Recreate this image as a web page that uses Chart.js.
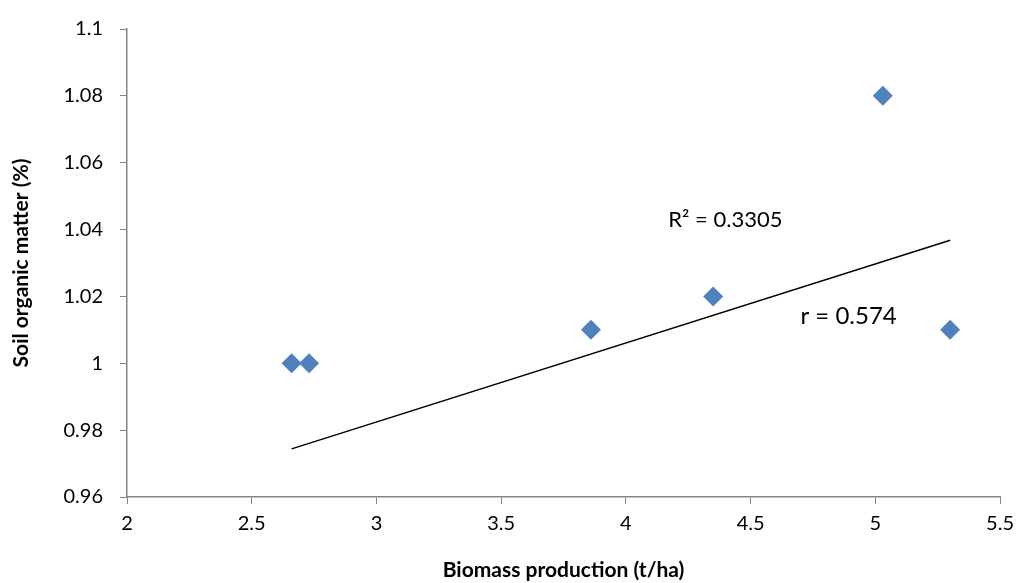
<!DOCTYPE html>
<html>
<head>
<meta charset="utf-8">
<script src="https://cdn.jsdelivr.net/npm/chart.js@4/dist/chart.umd.min.js"></script>
<style>
  html, body { margin: 0; padding: 0; background: #fff; }
  #wrap { width: 1022px; height: 583px; }
</style>
</head>
<body>
<div id="wrap"><canvas id="scatterChart"></canvas></div>
<script>
// Values
const biomass = [2.66, 2.73, 3.86, 4.35, 5.03, 5.30];
const organicMatter = [1.00, 1.00, 1.01, 1.02, 1.08, 1.01];

// Trend line end points
const trendX = [2.66, 5.30];
const trendY = [0.9744, 1.0368];

// Text labels placed in data coordinates
const noteText = ['R\u00b2 = 0.3305', 'r = 0.574'];
const noteX = [4.17, 4.70];
const noteY = [1.0429, 1.0141];
const noteSize = [22, 24];

const fontFamily = 'Lato, "Open Sans", sans-serif';
const axisGray = '#868686';

// Draws the R² and r labels
const notesPlugin = {
  id: 'notes',
  afterDatasetsDraw(chart) {
    const ctx = chart.ctx;
    const xs = chart.scales.x;
    const ys = chart.scales.y;
    ctx.save();
    ctx.fillStyle = '#000';
    ctx.textAlign = 'left';
    ctx.textBaseline = 'middle';
    noteText.forEach((t, i) => {
      ctx.font = noteSize[i] + 'px ' + fontFamily;
      ctx.fillText(t, xs.getPixelForValue(noteX[i]), ys.getPixelForValue(noteY[i]));
    });
    ctx.restore();
  }
};

const ctx = document.getElementById('scatterChart').getContext('2d');
new Chart(ctx, {
  type: 'scatter',
  data: {
    datasets: [
      {
        label: 'Soil organic matter',
        data: biomass.map((x, i) => ({ x: x, y: organicMatter[i] })),
        pointStyle: 'rectRot',
        pointRadius: 10,
        pointHoverRadius: 10,
        backgroundColor: '#4F81BD',
        borderColor: '#4F81BD',
        borderWidth: 0
      },
      {
        label: 'Linear trend',
        type: 'line',
        data: trendX.map((x, i) => ({ x: x, y: trendY[i] })),
        borderColor: '#000',
        borderWidth: 1.5,
        pointRadius: 0,
        fill: false
      }
    ]
  },
  options: {
    responsive: true,
    maintainAspectRatio: false,
    animation: false,
    layout: { padding: { top: 29, right: 19, left: 0, bottom: 0 } },
    plugins: {
      legend: { display: false },
      tooltip: { enabled: false }
    },
    scales: {
      x: {
        type: 'linear',
        min: 2,
        max: 5.5,
        ticks: {
          stepSize: 0.5,
          color: '#000',
          font: { family: fontFamily, size: 20 },
          padding: 8,
          maxRotation: 0,
          callback: v => String(v)
        },
        grid: {
          drawOnChartArea: false,
          drawTicks: true,
          tickLength: 7,
          color: axisGray
        },
        border: { color: axisGray, width: 1.5 },
        title: {
          display: true,
          text: 'Biomass production (t/ha)',
          color: '#000',
          font: { family: fontFamily, size: 21, weight: 'bold' },
          padding: { top: 0, bottom: 0 }
        },
        afterFit(scale) { scale.height = 86; }
      },
      y: {
        type: 'linear',
        min: 0.96,
        max: 1.1,
        ticks: {
          stepSize: 0.02,
          color: '#000',
          font: { family: fontFamily, size: 20 },
          padding: 17,
          callback: v => String(Math.round(v * 100) / 100)
        },
        grid: {
          drawOnChartArea: false,
          drawTicks: true,
          tickLength: 7,
          color: axisGray
        },
        border: { color: axisGray, width: 1.5 },
        title: {
          display: true,
          text: 'Soil organic matter (%)',
          color: '#000',
          font: { family: fontFamily, size: 21, weight: 'bold' },
          padding: { top: 9, bottom: 0 }
        },
        afterFit(scale) { scale.width = 127; }
      }
    }
  },
  plugins: [notesPlugin]
});
</script>
</body>
</html>
